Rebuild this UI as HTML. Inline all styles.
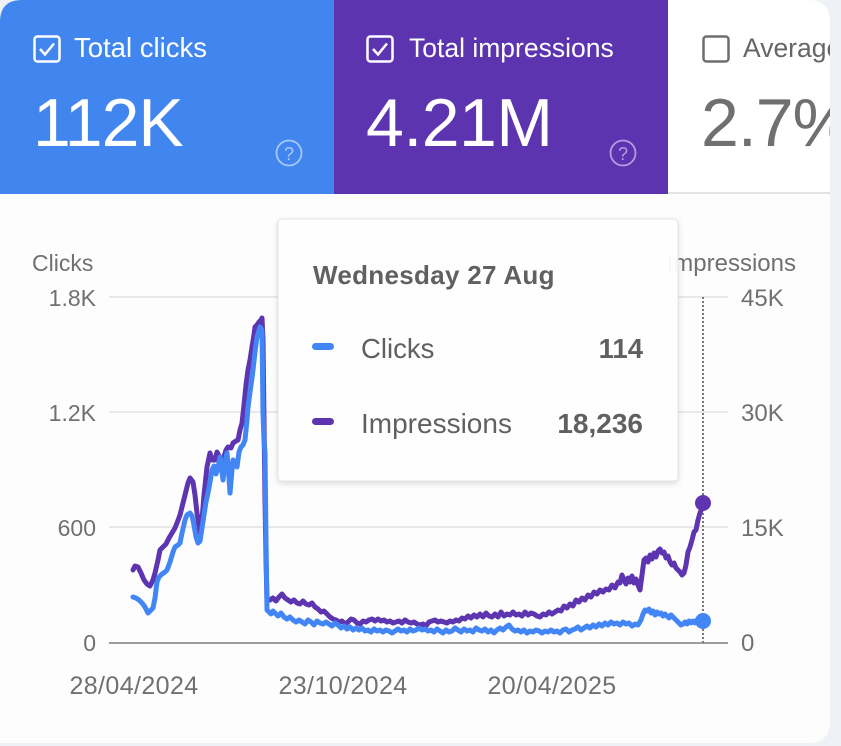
<!DOCTYPE html>
<html><head><meta charset="utf-8">
<style>
html,body{margin:0;padding:0;background:#eef1f5;}
body{width:841px;height:746px;overflow:hidden;}
svg{display:block;}
text{font-family:"Liberation Sans",Arial,sans-serif;}
</style></head>
<body>
<svg width="841" height="746" viewBox="0 0 841 746" xmlns="http://www.w3.org/2000/svg">
<defs>
  <clipPath id="card"><path d="M22 0 H808 Q830 0 830 22 V721 Q830 743 808 743 H0 V22 Q0 0 22 0 Z"/></clipPath>
  <filter id="sh" x="-10%" y="-10%" width="120%" height="125%">
    <feDropShadow dx="0" dy="2" stdDeviation="3" flood-color="#000" flood-opacity="0.15"/>
  </filter>
</defs>
<rect x="0" y="0" width="841" height="746" fill="#eef1f5"/>
<g clip-path="url(#card)">
  <rect x="0" y="0" width="830" height="743" fill="#fdfdfd"/>
  <rect x="0" y="0" width="334" height="194" fill="#4086ee"/>
  <rect x="334" y="0" width="334" height="194" fill="#5d34b0"/>
  <rect x="668" y="0" width="162" height="193" fill="#ffffff"/>
  <rect x="668" y="192" width="162" height="2" fill="#e3e3e3"/>

  <rect x="34.5" y="36.5" width="25" height="25" rx="3" fill="none" stroke="#fff" stroke-width="2.5"/>
  <path d="M40 49 L45 54.5 L54 43.5" fill="none" stroke="#fff" stroke-width="2.5"/>
  <text x="74" y="57" font-size="27.5" fill="#fff">Total clicks</text>
  <text x="33" y="146" font-size="68" fill="#fff" letter-spacing="-1">112K</text>
  <circle cx="289" cy="153" r="12.5" fill="none" stroke="#a9c8fa" stroke-width="1.8"/>
  <text x="289" y="160" font-size="18" fill="#a9c8fa" text-anchor="middle">?</text>

  <rect x="367.5" y="36.5" width="25" height="25" rx="3" fill="none" stroke="#fff" stroke-width="2.5"/>
  <path d="M373 49 L378 54.5 L387 43.5" fill="none" stroke="#fff" stroke-width="2.5"/>
  <text x="409" y="57" font-size="26.5" fill="#fff">Total impressions</text>
  <text x="366" y="146" font-size="68" fill="#fff" letter-spacing="-0.5">4.21M</text>
  <circle cx="623" cy="153" r="12.5" fill="none" stroke="#b49de0" stroke-width="1.8"/>
  <text x="623" y="160" font-size="18" fill="#b49de0" text-anchor="middle">?</text>

  <rect x="703.5" y="36.5" width="25" height="25" rx="3" fill="none" stroke="#6e6e6e" stroke-width="2.5"/>
  <text x="743" y="57" font-size="26.5" fill="#666">Average CTR</text>
  <text x="701" y="146" font-size="68" fill="#707070" letter-spacing="-1">2.7%</text>
</g>

<g stroke="#e8e8e8" stroke-width="2">
  <line x1="109" y1="297" x2="728" y2="297"/>
  <line x1="109" y1="412" x2="728" y2="412"/>
  <line x1="109" y1="527" x2="728" y2="527"/>
</g>
<line x1="109" y1="643" x2="728" y2="643" stroke="#9e9e9e" stroke-width="2"/>

<g font-size="23" fill="#707070">
  <text x="32" y="271">Clicks</text>
  <text x="96" y="306" text-anchor="end">1.8K</text>
  <text x="96" y="421" text-anchor="end">1.2K</text>
  <text x="96" y="536" text-anchor="end">600</text>
  <text x="96" y="651" text-anchor="end">0</text>
</g>
<g font-size="24" fill="#707070">
  <text x="796" y="271" text-anchor="end">Impressions</text>
  <text x="741" y="306">45K</text>
  <text x="741" y="421">30K</text>
  <text x="741" y="536">15K</text>
  <text x="741" y="651">0</text>
</g>
<g font-size="25" fill="#707070" letter-spacing="0.4" text-anchor="middle">
  <text x="134" y="694">28/04/2024</text>
  <text x="343" y="694">23/10/2024</text>
  <text x="552" y="694">20/04/2025</text>
</g>

<line x1="703" y1="297" x2="703" y2="643" stroke="#777" stroke-width="2" stroke-dasharray="2 2"/>

<polyline fill="none" stroke="#5e35b1" stroke-width="5" stroke-linejoin="round" stroke-linecap="round" points="133,570 135,566 138,567 141,573 144,580 147,584 150,586 153,580 155,573 158,560 160,550 163,547 166,544 169,538 172,533 175,528 177,523 180,515 182,507 185,495 188,483 190,478 193,482 195,495 197,513 200,533 202,520 204,495 207,467 210,453 212,460 215,460 217,452 219,456 221,462 223,460 226,450 228,447 231,448 233,443 236,441 238,440 240,430 242,423 244,405 246,385 248,370 250,360 252,347 254,335 255,327 257,325 259,322 261,320 262,318 263,340 264,420 265,500 266,560 267,600 270,600 273,598 276,601 279,597 282,594 285,598 288,600 291,602 294,600 297,603 300,604 303,601 306,604 309,605 312,603 315,607 318,609 321,612 324,611 327,614 330,617 333,619 336,620 339,622 342,621 345,624 348,622 351,619 354,620 357,623 360,624 363,621 366,622 369,620 372,619 375,621 378,619 381,621 384,620 387,622 390,621 393,623 396,622 399,621 402,623 405,620 408,622 411,623 414,622 417,624 420,625 423,624 426,626 429,622 432,621 435,620 438,622 441,621 444,622 447,623 450,621 453,622 456,620 459,621 462,618 465,619 468,616 471,618 474,615 477,617 480,614 483,617 486,613 489,616 492,617 495,614 498,617 501,612 504,616 507,614 510,615 513,612 516,615 519,614 522,616 525,612 528,615 531,613 534,614 537,616 540,617 543,614 546,615 549,612 552,614 555,612 558,610 561,611 564,606 567,608 570,604 573,606 576,600 579,602 582,598 585,600 588,595 591,597 594,592 597,594 600,590 603,592 606,589 609,590 612,585 615,588 618,582 620,583 622,575 624,580 626,584 628,578 630,582 632,576 634,583 636,579 638,585 640,590 642,575 644,560 646,558 648,562 650,555 652,559 654,553 656,557 658,551 660,549 662,553 664,552 666,558 668,556 670,562 672,565 674,563 676,568 678,570 680,572 682,575 684,573 686,565 688,552 690,547 692,540 694,532 696,530 698,520 700,513 702,508 703,503"/>

<polyline fill="none" stroke="#4285f4" stroke-width="5" stroke-linejoin="round" stroke-linecap="round" points="133,597 136,598 139,600 142,603 145,607 148,613 151,610 153,608 155,598 157,582 159,577 162,574 165,572 167,570 170,562 173,552 175,547 178,545 180,543 182,533 185,520 187,515 190,513 192,516 194,525 196,537 198,543 200,541 202,528 204,515 206,502 208,493 210,482 212,470 214,466 216,474 218,468 220,457 222,472 223,480 225,462 227,453 229,478 230,493 232,470 233,460 235,462 237,467 239,452 241,447 243,445 245,440 247,420 248,407 250,392 252,378 253,370 255,352 257,337 259,330 260,327 262,330 263,413 264,440 265,453 266,540 267,610 269,612 271,614 273,611 275,613 278,616 281,613 284,617 287,619 290,617 293,620 296,622 299,620 302,622 305,624 308,620 311,622 314,625 317,621 320,623 323,624 326,622 329,624 332,626 335,623 338,625 341,628 344,626 347,629 350,627 353,630 356,628 359,630 362,628 365,631 368,630 371,632 374,629 377,631 380,630 383,632 386,630 389,631 392,633 395,631 398,629 401,631 404,630 407,632 410,629 413,631 416,630 419,628 422,630 425,629 428,631 431,630 434,632 437,629 440,631 443,633 446,630 449,632 452,631 455,628 458,630 461,632 464,629 467,631 470,630 473,632 476,628 479,630 482,631 485,629 488,632 491,630 494,633 497,630 500,628 503,630 506,627 509,625 512,629 515,631 518,630 521,632 524,630 527,633 530,631 533,632 536,630 539,631 542,633 545,631 548,632 551,630 554,632 557,631 560,633 563,630 566,629 569,632 572,630 575,629 578,627 581,630 584,628 587,626 590,628 593,625 596,627 599,624 602,626 605,623 608,625 611,622 614,624 617,623 620,625 623,622 626,624 629,623 632,626 635,624 638,625 641,620 643,614 645,610 647,611 649,609 651,613 653,611 655,615 657,612 659,614 661,613 663,616 665,614 667,616 669,618 671,615 673,617 675,619 677,621 679,623 681,625 683,624 685,622 687,624 689,621 691,623 693,621 695,623 697,620 699,622 701,621 703,621"/>

<circle cx="703" cy="503" r="8" fill="#5e35b1"/>
<circle cx="703" cy="621" r="8" fill="#4285f4"/>

<g filter="url(#sh)">
  <rect x="278" y="219" width="400" height="262" rx="4" fill="#ffffff" fill-opacity="0.94" stroke="#e4e4e4" stroke-width="1"/>
</g>
<text x="313" y="284" font-size="26" font-weight="bold" fill="#606060" letter-spacing="0.3">Wednesday 27 Aug</text>
<rect x="312" y="343" width="22" height="7" rx="3.5" fill="#4285f4"/>
<text x="361" y="358" font-size="27.5" fill="#606060">Clicks</text>
<text x="643" y="358" font-size="27.5" font-weight="bold" fill="#606060" text-anchor="end">114</text>
<rect x="312" y="418" width="22" height="7" rx="3.5" fill="#5e35b1"/>
<text x="361" y="433" font-size="28" fill="#606060">Impressions</text>
<text x="643" y="433" font-size="28" font-weight="bold" fill="#606060" text-anchor="end">18,236</text>
</svg>
</body></html>
